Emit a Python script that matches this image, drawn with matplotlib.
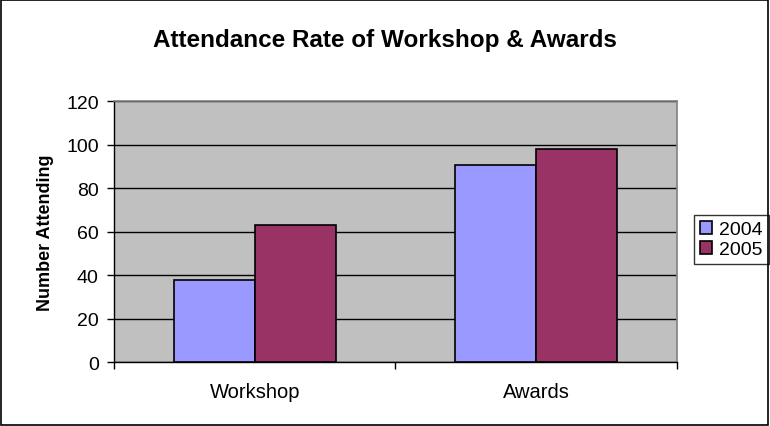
import matplotlib
matplotlib.use("Agg")
import matplotlib.pyplot as plt
from matplotlib.patches import Rectangle
import numpy as np

# data
categories = ["Workshop", "Awards"]
years = ["2004", "2005"]
att_2004 = [38, 91]
att_2005 = [63, 98]
colors = ["#9999FF", "#993366"]

plt.rcParams['font.family'] = ['Liberation Sans', 'DejaVu Sans']

fig = plt.figure(figsize=(7.7, 4.27), dpi=100)
ax = fig.add_axes([0.148, 0.149, 0.731, 0.611])
ax.set_facecolor("#C0C0C0")

x = np.arange(len(categories))
w = 0.288
ax.bar(x - w / 2, att_2004, w, color=colors[0], edgecolor="black", linewidth=1.2, label=years[0], zorder=3)
ax.bar(x + w / 2, att_2005, w, color=colors[1], edgecolor="black", linewidth=1.2, label=years[1], zorder=3)

ax.set_xlim(-0.5, 1.5)
ax.set_ylim(0, 120)
ax.set_yticks(range(0, 121, 20))
ax.yaxis.grid(True, color="black", linewidth=1)
ax.set_axisbelow(True)

# category labels centred, ticks between categories
ax.set_xticks([-0.5, 0.5, 1.5])
ax.set_xticklabels([])
ax.set_xticks(x, minor=True)
ax.set_xticklabels(categories, minor=True, fontsize=14.5)
ax.tick_params(axis="x", which="minor", length=0, pad=14)
ax.tick_params(axis="x", which="major", length=5, direction="out", width=1)
ax.tick_params(axis="y", length=5, direction="out", width=1, labelsize=14, pad=6)

for s in ["top", "right"]:
    ax.spines[s].set_color("#808080")
    ax.spines[s].set_linewidth(1.2)
for s in ["left", "bottom"]:
    ax.spines[s].set_color("black")
    ax.spines[s].set_linewidth(1)

ax.set_ylabel("Number Attending", fontsize=13, fontweight="bold", labelpad=9)
fig.text(0.5, 0.905, "Attendance Rate of Workshop & Awards", ha="center", va="center",
         fontsize=17.5, fontweight="bold")

leg = ax.legend(loc="center left", bbox_to_anchor=(1.01, 0.47), fontsize=14, frameon=True,
                fancybox=False, edgecolor="black", handlelength=0.6, handleheight=0.6,
                handletextpad=0.4, borderpad=0.3, labelspacing=0.15, borderaxespad=0.6)
leg.get_frame().set_linewidth(1)

fig.patches.append(Rectangle((0.001, 0.002), 0.997, 0.995, transform=fig.transFigure,
                             fill=False, edgecolor="black", linewidth=1.2))

fig.savefig("out.png", dpi=100)
